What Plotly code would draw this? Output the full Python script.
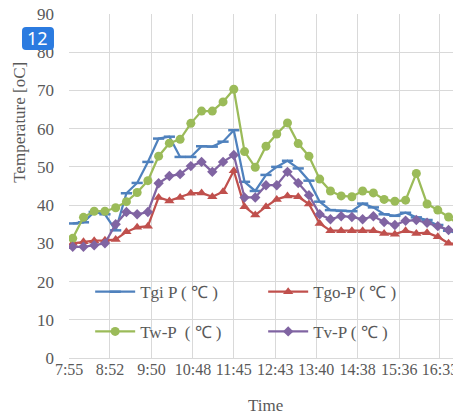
import plotly.graph_objects as go

# ---- data -------------------------------------------------------------
times = ["8:00", "8:15", "8:30", "8:45", "9:00", "9:15", "9:30", "9:45", "10:00",
         "10:15", "10:30", "10:45", "11:00", "11:15", "11:30", "11:45", "12:00",
         "12:15", "12:30", "12:45", "13:00", "13:15", "13:30", "13:45", "14:00",
         "14:15", "14:30", "14:45", "15:00", "15:15", "15:30", "15:45", "16:00",
         "16:15", "16:30", "16:45", "17:00"]

tgi = [35.2, 35.5, 38.2, 37.6, 33.4, 43.1, 45.8, 51.3, 57.4, 57.9, 52.6, 52.6,
       55.4, 55.3, 56.6, 59.6, 46.1, 43.7, 47.9, 50.0, 51.6, 49.6, 46.4, 40.9,
       38.7, 38.5, 38.4, 40.4, 39.4, 37.6, 37.2, 38.0, 36.8, 36.1, 34.8, 33.3, 32.4]
tgo = [30.0, 30.4, 30.7, 30.8, 31.0, 33.0, 34.2, 34.5, 42.0, 41.1, 42.0, 43.1,
       43.2, 42.2, 43.5, 49.0, 39.6, 37.4, 39.6, 41.5, 42.4, 42.2, 40.3, 35.2,
       33.3, 33.3, 33.3, 33.3, 33.3, 32.6, 32.4, 33.3, 32.6, 32.8, 31.7, 30.0, 29.8]
tw = [31.3, 36.8, 38.4, 38.4, 39.3, 40.9, 43.3, 46.4, 52.8, 56.2, 57.2, 61.4,
      64.6, 64.6, 67.0, 70.3, 54.0, 49.9, 55.4, 58.6, 61.5, 56.1, 52.8, 46.8,
      43.7, 42.4, 42.2, 43.7, 43.2, 41.5, 41.0, 41.3, 48.3, 40.3, 38.7, 36.9, 34.8]
tv = [29.1, 29.1, 29.5, 30.0, 35.0, 38.2, 37.6, 38.2, 45.7, 47.6, 48.1, 50.2,
      51.3, 48.7, 51.3, 53.1, 42.0, 42.0, 45.2, 45.2, 48.7, 45.8, 42.6, 37.6,
      36.3, 37.1, 36.9, 36.3, 37.1, 35.6, 34.8, 35.9, 36.1, 35.4, 34.5, 33.5, 32.6]

tick_labels = ["7:55", "8:52", "9:50", "10:48", "11:45", "12:43", "13:40",
               "14:38", "15:36", "16:33"]
y_ticks = [0, 10, 20, 30, 40, 50, 60, 70, 80, 90]

series_names = ["Tgi P ( \u2103 )", "Tgo-P ( \u2103 )", "Tw-P  ( \u2103 )", "Tv-P ( \u2103 )"]


def to_min(s):
    h, m = s.split(":")
    return int(h) * 60 + int(m)


x = [to_min(t) for t in times]
tickvals = [to_min(t) for t in tick_labels]

BLUE = "#4F81BD"
RED = "#C0504D"
GREEN = "#9BBB59"
PURPLE = "#8064A2"
SERIF = "Liberation Serif, Times New Roman, serif"
GREY_TXT = "#595959"
GRID = "#D9D9D9"

fig = go.Figure()
fig.add_trace(go.Scatter(x=x, y=tgi, name=series_names[0], mode="lines+markers",
                         line=dict(color=BLUE, width=2.25),
                         marker=dict(symbol="line-ew", size=8,
                                     line=dict(color=BLUE, width=2.5)),
                         legend="legend"))
fig.add_trace(go.Scatter(x=x, y=tgo, name=series_names[1], mode="lines+markers",
                         line=dict(color=RED, width=2.25),
                         marker=dict(symbol="triangle-up", size=9, color=RED),
                         legend="legend"))
fig.add_trace(go.Scatter(x=x, y=tw, name=series_names[2], mode="lines+markers",
                         line=dict(color=GREEN, width=2.25),
                         marker=dict(symbol="circle", size=9, color=GREEN),
                         legend="legend2"))
fig.add_trace(go.Scatter(x=x, y=tv, name=series_names[3], mode="lines+markers",
                         line=dict(color=PURPLE, width=2.25),
                         marker=dict(symbol="diamond", size=8, color=PURPLE),
                         legend="legend2"))

legend_common = dict(orientation="h", entrywidth=118, entrywidthmode="pixels",
                     xanchor="left", yanchor="middle", bgcolor="rgba(0,0,0,0)",
                     font=dict(family=SERIF, size=17, color=GREY_TXT),
                     itemwidth=40, traceorder="normal")

# page body has an 8 px margin: the figure is drawn from (8, 8)
fig.update_layout(
    width=461, height=408,
    margin=dict(l=61, r=8, t=6, b=58),
    paper_bgcolor="white", plot_bgcolor="white",
    showlegend=True,
    legend=dict(x=0.054, y=0.1916, **legend_common),
    legend2=dict(x=0.054, y=0.076, **legend_common),
    xaxis=dict(range=[474.8, 1022.4], tickvals=tickvals, ticktext=tick_labels,
               showgrid=True, gridcolor=GRID, gridwidth=1, zeroline=False,
               showline=False, ticks="", automargin=False, ticklabeloverflow="allow",
               tickfont=dict(family=SERIF, size=16, color=GREY_TXT)),
    yaxis=dict(range=[0, 90], tickvals=y_ticks, showgrid=True, gridcolor=GRID,
               gridwidth=1, zeroline=True, zerolinecolor=GRID, zerolinewidth=1,
               ticks="", ticklabelstandoff=14, automargin=False,
               ticklabeloverflow="allow",
               tickfont=dict(family=SERIF, size=17, color=GREY_TXT)),
    shapes=[
        dict(type="path", xref="paper", yref="paper", layer="above",
             path="M -0.1097 0.9622 L -0.0485 0.9622 Q -0.0383 0.9622 -0.0383 0.9506 "
                  "L -0.0383 0.9069 Q -0.0383 0.8953 -0.0485 0.8953 L -0.1097 0.8953 "
                  "Q -0.1199 0.8953 -0.1199 0.9069 L -0.1199 0.9506 Q -0.1199 0.9622 -0.1097 0.9622 Z",
             fillcolor="#2B7BE0", line=dict(width=0)),
    ],
    annotations=[
        dict(text="Temperature [oC]", textangle=-90, xref="paper", yref="paper",
             x=-0.128, y=0.686, xanchor="center", yanchor="middle", showarrow=False,
             font=dict(family=SERIF, size=17, color=GREY_TXT)),
        dict(text="Time", xref="paper", yref="paper", x=0.5, y=-0.1395,
             xanchor="center", yanchor="middle", showarrow=False,
             font=dict(family=SERIF, size=17, color=GREY_TXT)),
        dict(text="12", xref="paper", yref="paper", x=-0.0791, y=0.9288,
             xanchor="center", yanchor="middle", showarrow=False,
             font=dict(family="Noto Sans, sans-serif", size=18, color="white")),
    ],
)

fig.write_html("out.html")
